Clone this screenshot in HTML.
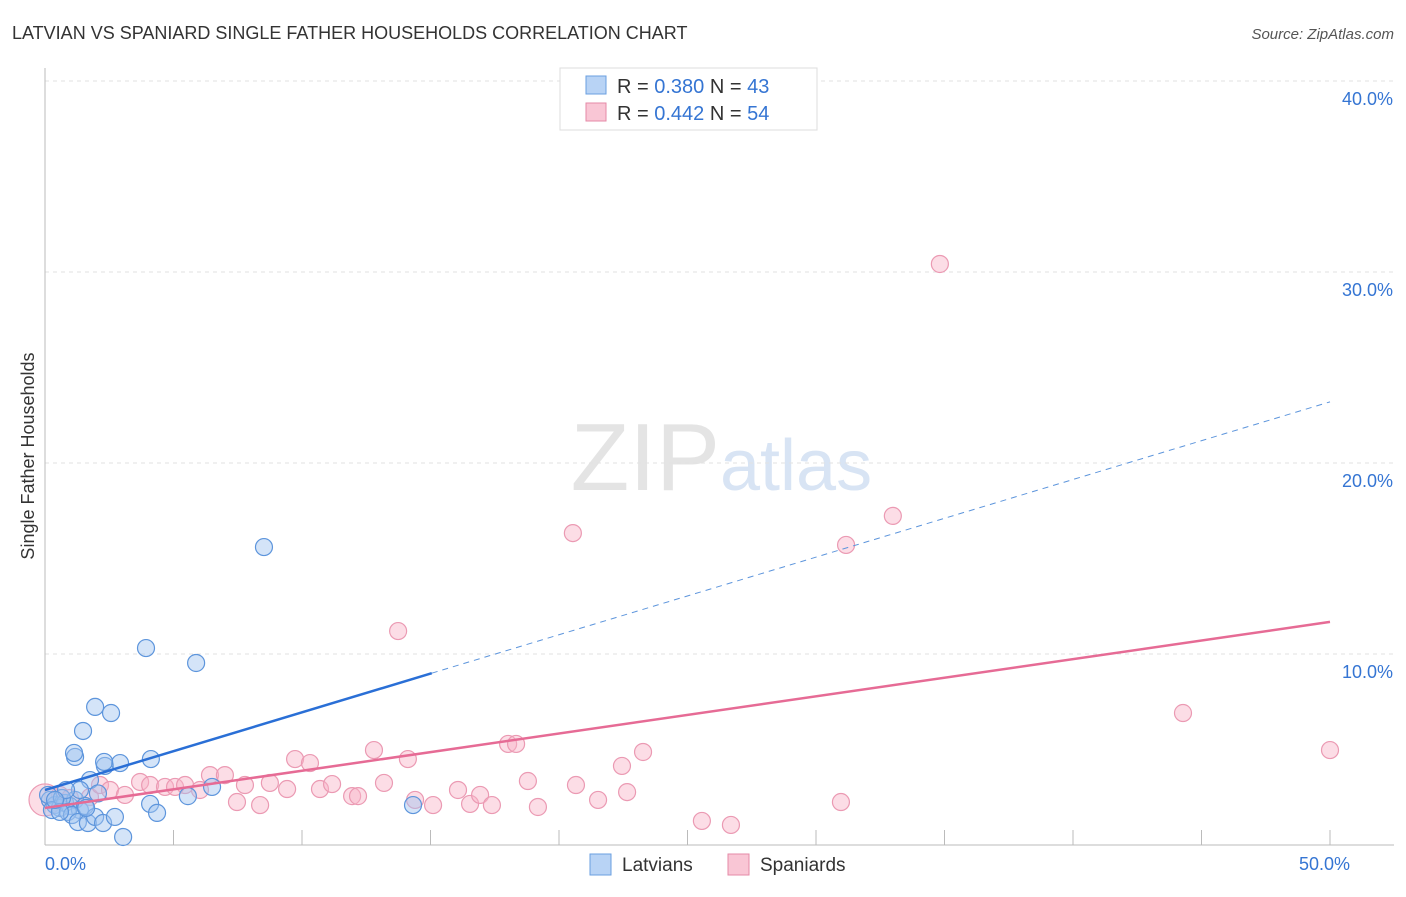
<!DOCTYPE html>
<html><head><meta charset="utf-8"><style>
body{margin:0;background:#fff;font-family:"Liberation Sans",sans-serif}
svg text{font-family:"Liberation Sans",sans-serif}
</style></head><body>
<svg id="c" width="1406" height="892" xmlns="http://www.w3.org/2000/svg">
<text x="12" y="39" font-size="18" fill="#333">LATVIAN VS SPANIARD SINGLE FATHER HOUSEHOLDS CORRELATION CHART</text>
<text x="1394" y="39" font-size="15" fill="#555" font-style="italic" text-anchor="end">Source: ZipAtlas.com</text>
<text x="720" y="490" font-size="96" fill="#e4e4e4" text-anchor="end" font-family="Liberation Serif">ZIP</text>
<text x="720" y="490" font-size="72" fill="#d8e4f4">atlas</text>
<text transform="translate(34,456) rotate(-90)" font-size="18" fill="#333" text-anchor="middle">Single Father Households</text>
<g id="grid"></g><g id="pts"></g><g id="lines"></g>
<g>
<rect x="560" y="68" width="257" height="62" fill="#fff" stroke="#ddd"/>
<rect x="586" y="76" width="20" height="18" fill="#b8d3f5" stroke="#6a9fe0"/>
<rect x="586" y="103" width="20" height="18" fill="#f9c6d5" stroke="#e58aa7"/>
<text x="617" y="93" font-size="20" fill="#333">R = <tspan fill="#3575d3">0.380</tspan>   N = <tspan fill="#3575d3">43</tspan></text>
<text x="617" y="120" font-size="20" fill="#333">R = <tspan fill="#3575d3">0.442</tspan>   N = <tspan fill="#3575d3">54</tspan></text>
</g>
<g>
<rect x="590" y="854" width="21" height="21" fill="#b8d3f5" stroke="#6a9fe0"/>
<text x="622" y="871" font-size="19" fill="#333">Latvians</text>
<rect x="728" y="854" width="21" height="21" fill="#f9c6d5" stroke="#e58aa7"/>
<text x="760" y="871" font-size="19" fill="#333">Spaniards</text>
</g>
</svg>
<script>
const xTicks=[0,50];
const yTicks=[10,20,30,40];
const latX=[0.19,0.39,0.58,0.78,0.97,1.17,1.36,1.56,0.12,0.27,0.66,0.89,1.05,1.28,1.67,1.95,2.26,2.72,3.04,4.09,4.36,5.56,6.50,14.32,1.60,1.75,1.36,2.33,2.92,4.12,2.30,1.17,1.13,1.48,1.95,2.57,3.93,5.88,8.52,2.06,0.58,0.82,0.39];
const latY=[2.36,2.09,1.94,2.20,2.04,2.36,1.83,2.04,2.62,1.83,2.46,1.73,1.57,1.20,1.15,1.47,1.15,1.47,0.42,2.15,1.68,2.56,3.04,2.09,1.94,3.40,2.88,4.14,4.29,4.50,4.35,4.61,4.82,5.97,7.23,6.91,10.31,destroyed=9.53,15.60,2.70,1.73,2.88,2.36];
const spaX=[0,0.58,0.97,1.75,2.14,2.53,3.11,3.70,4.09,4.67,5.06,5.45,6.03,6.42,7.00,7.47,7.78,8.37,8.75,9.42,9.73,10.31,10.70,11.17,11.95,12.18,12.80,13.19,14.12,14.40,15.10,16.07,16.54,16.93,17.39,18.02,18.33,18.79,19.18,20.66,21.52,22.45,22.65,23.27,25.56,26.69,30.97,31.17,32.99,20.54,13.74,34.82,44.28,50.0];
const spaY=[2.36,2.62,2.46,2.51,3.14,2.88,2.62,3.30,3.14,3.04,3.04,3.14,2.88,3.66,3.66,2.25,3.14,2.09,3.25,2.93,4.50,4.29,2.93,3.19,2.56,2.56,4.97,3.25,4.50,2.36,2.09,2.88,2.15,2.62,2.09,5.29,5.29,3.35,1.99,3.14,2.36,4.14,2.77,4.87,1.26,1.05,2.25,15.71,17.23,16.33,11.20,30.42,6.91,4.97];
const latTrend=[2.88,23.2]; // y at x=0 and x=50
const latSolidEnd=15.05;
const spaTrend=[1.94,11.68];
const X=v=>45+v*25.7, Y=v=>845-v*19.1;
const NS='http://www.w3.org/2000/svg';
function mk(t,a,p){const e=document.createElementNS(NS,t);for(const k in a)e.setAttribute(k,a[k]);p.appendChild(e);return e;}
const g=document.getElementById('grid');
yTicks.forEach(v=>{const l=mk('line',{x1:45,x2:1394,y1:Y(v),y2:Y(v),stroke:'#e2e2e2','stroke-dasharray':'4,4'},g);

const t=mk('text',{x:1393,y:Y(v)+24,'font-size':18,fill:'#3575d3','text-anchor':'end'},g);t.textContent=v.toFixed(1)+'%';
});
const ax=mk('line',{x1:45,x2:45,y1:68,y2:845,stroke:'#bbb'},g);
const bx=mk('line',{x1:45,x2:1394,y1:845,y2:845,stroke:'#bbb'},g);
for(let i=1;i<=10;i++){const tk=mk('line',{x1:X(i*5),x2:X(i*5),y1:830,y2:845,stroke:'#bbb'},g);}
xTicks.forEach((v,i)=>{const t=mk('text',{x:X(v)+(i?20:0),y:870,'font-size':18,fill:'#3575d3','text-anchor':i?'end':'start'},g);t.textContent=v.toFixed(1)+'%';
});
const p=document.getElementById('pts');
spaX.forEach((v,i)=>{const c=mk('circle',{cx:X(v),cy:Y(spaY[i]),r:i==0?16:8.5,fill:'rgba(248,180,200,0.45)',stroke:'#eb9ab3','stroke-width':1.2},p);
});
latX.forEach((v,i)=>{const c=mk('circle',{cx:X(v),cy:Y(latY[i]),r:8.5,fill:'rgba(160,195,240,0.45)',stroke:'#5d95dc','stroke-width':1.2},p);
});
const L=document.getElementById('lines');
const ly=x=>latTrend[0]+(latTrend[1]-latTrend[0])*x/50;
let a=mk('line',{x1:X(0),y1:Y(ly(0)),x2:X(latSolidEnd),y2:Y(ly(latSolidEnd)),stroke:'#2a6fd6','stroke-width':2.5},L);

a=mk('line',{x1:X(latSolidEnd),y1:Y(ly(latSolidEnd)),x2:X(50),y2:Y(ly(50)),stroke:'#5d95dc','stroke-width':1,'stroke-dasharray':'6,5'},L);

a=mk('line',{x1:X(0),y1:Y(spaTrend[0]),x2:X(50),y2:Y(spaTrend[1]),stroke:'#e66b95','stroke-width':2.5},L);

</script>
</body></html>
